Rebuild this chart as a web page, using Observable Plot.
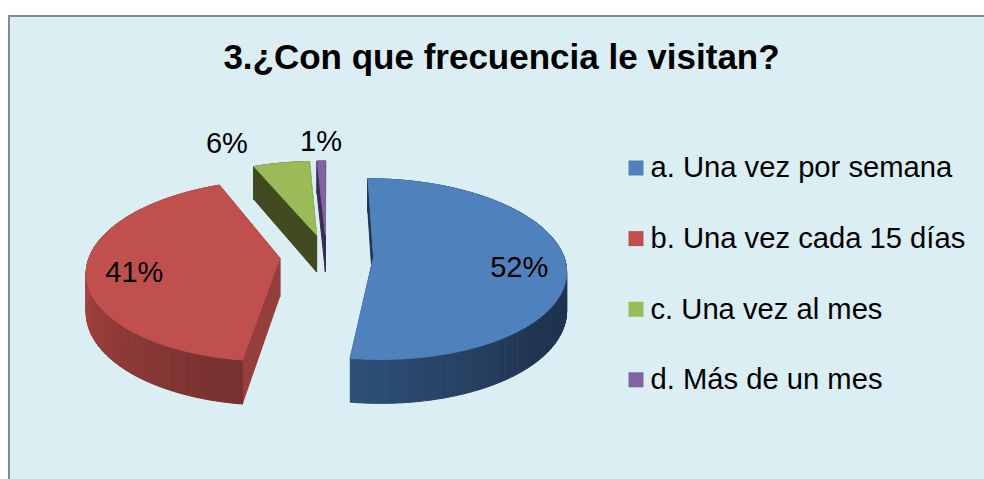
<!DOCTYPE html>
<html lang="es">
<head>
<meta charset="utf-8">
<title>3.¿Con que frecuencia le visitan?</title>
<style>
  html, body { margin: 0; padding: 0; background: #fff; width: 984px; height: 479px; overflow: hidden; }
  #panel { position: absolute; left: 8px; top: 15px; width: 976px; height: 464px; box-sizing: border-box;
           background: #DBEEF4; border-left: 2px solid #8A8A8A; border-top: 2px solid #8A8A8A; }
  #chart { position: absolute; left: 0; top: 0; }
  #chart svg { display: block; background: transparent; }
</style>
<script src="https://cdn.jsdelivr.net/npm/d3@7"></script>
<script src="https://cdn.jsdelivr.net/npm/@observablehq/plot@0.6"></script>
</head>
<body>
<div id="panel"></div>
<div id="chart"></div>
<script>
const titleText = "3.¿Con que frecuencia le visitan?";
const categories = ["a. Una vez por semana", "b. Una vez cada 15 días", "c. Una vez al mes", "d. Más de un mes"];
const values = [52.2, 41.49, 5.5, 0.81];

const topColors = ["#4F81BD", "#C0504D", "#9BBB59", "#8064A2"];
const wallColors = ["#1F3450", "#953F3D", "#414B20", "#3A2C55"];
const rimStops = [
  [130, "#1F3450", 188, "#2F5078"],
  [190, "#763130", 270, "#A8443F"],
  [330, "#414B20", 360, "#414B20"],
  [350, "#3A2C55", 360, "#3A2C55"]
];
const labelRadius = [0.76, 0.76, 1.14, 1.1];
const labelShift = [[0, 6], [1, 6], [-50, -10], [0, -13]];

const W = 984, H = 479;
const O = {x: 326, y: 255};
const R = 190, tilt = 0.465, persp = 0.133 / R, depth = 38, explode = 47;
const deg = Math.PI / 180;

const project = (X, Y, h = 0) => {
  const s = 1 / (1 - persp * Y);
  return {x: O.x + X * s, y: O.y + (tilt * Y + h) * s};
};

const arcs = d3.pie().sort(null).value(d => d).startAngle(0).endAngle(2 * Math.PI)(values);
const polys = [];
const pushPoly = (id, color, pts) => pts.forEach(p => polys.push({id, color, x: p.x, y: p.y}));

// back to front: purple, green, red, blue
[3, 2, 1, 0].forEach(i => {
  const a = arcs[i], mid = (a.startAngle + a.endAngle) / 2;
  const cx = explode * Math.sin(mid), cy = -explode * Math.cos(mid);
  const P = (ang, r, h) => project(cx + r * Math.sin(ang), cy - r * Math.cos(ang), h);

  [a.startAngle, a.endAngle].forEach((ang, j) => {
    pushPoly(`wall-${i}-${j}`, wallColors[i], [P(ang, 0, 0), P(ang, R, 0), P(ang, R, depth), P(ang, 0, depth)]);
  });

  const n = Math.max(2, Math.round((a.endAngle - a.startAngle) / deg));
  const [a0, c0, a1, c1] = rimStops[i];
  const shade = d3.scaleLinear().domain([a0, a1]).range([c0, c1]).clamp(true).interpolate(d3.interpolateRgb);
  for (let k = 0; k < n; k++) {
    const t0 = a.startAngle + (a.endAngle - a.startAngle) * k / n;
    const t1 = a.startAngle + (a.endAngle - a.startAngle) * (k + 1) / n;
    pushPoly(`rim-${i}-${k}`, shade((t0 + t1) / 2 / deg), [P(t0, R, 0), P(t1, R, 0), P(t1, R, depth), P(t0, R, depth)]);
  }

  const top = [P(a.startAngle, 0, 0)];
  const m = Math.max(4, Math.round((a.endAngle - a.startAngle) / deg));
  for (let k = 0; k <= m; k++) top.push(P(a.startAngle + (a.endAngle - a.startAngle) * k / m, R, 0));
  pushPoly(`top-${i}`, topColors[i], top);
});

const labels = arcs.map((a, i) => {
  const mid = (a.startAngle + a.endAngle) / 2;
  const p = project(explode * Math.sin(mid) + labelRadius[i] * R * Math.sin(mid),
                    -explode * Math.cos(mid) - labelRadius[i] * R * Math.cos(mid));
  return {text: `${Math.round(values[i])}%`, x: p.x + labelShift[i][0], y: p.y + labelShift[i][1]};
});

const legendRows = categories.map((name, i) => ({name, color: topColors[i], y: 167.5 + i * 70.6}));

const plot = Plot.plot({
  width: W, height: H,
  margin: 0,
  x: {domain: [0, W], range: [0, W], axis: null},
  y: {domain: [0, H], range: [0, H], axis: null},
  marks: [
    Plot.line(polys, {x: "x", y: "y", z: "id", curve: "linear-closed",
      fill: {value: "color", scale: null}, stroke: {value: "color", scale: null}, strokeWidth: 1}),
    Plot.text(labels, {x: "x", y: "y", text: "text", fontSize: 29, fill: "#000", textAnchor: "middle"}),
    Plot.dot(legendRows, {x: () => 635.5, y: "y", symbol: "square", r: 8.46,
      fill: {value: "color", scale: null}, stroke: null}),
    Plot.text(legendRows, {x: () => 650, y: "y", text: "name", fontSize: 29.2, fill: "#000", textAnchor: "start"}),
    Plot.text([titleText], {x: () => 501, y: () => 57, text: d => d, fontSize: 35, fontWeight: "bold", fill: "#000", textAnchor: "middle"})
  ],
  style: {fontFamily: "'Liberation Sans', Arial, sans-serif", background: "transparent"}
});
document.getElementById("chart").appendChild(plot);
</script>
</body>
</html>
